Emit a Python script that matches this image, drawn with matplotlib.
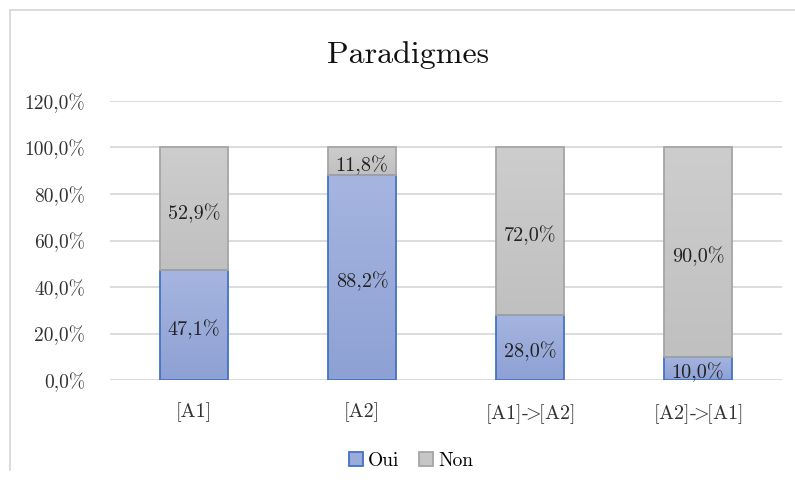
import matplotlib
matplotlib.use("Agg")
import matplotlib.pyplot as plt
from matplotlib.lines import Line2D
from matplotlib.patches import Patch
from matplotlib.colors import LinearSegmentedColormap
import numpy as np

categories = ["[A1]", "[A2]", "[A1]->[A2]", "[A2]->[A1]"]
oui = [47.1, 88.2, 28.0, 10.0]
non = [52.9, 11.8, 72.0, 90.0]
yticks = [0, 20, 40, 60, 80, 100, 120]

plt.rcParams['font.family'] = ['cmr10', 'DejaVu Serif']
plt.rcParams['mathtext.fontset'] = 'cm'
plt.rcParams['axes.formatter.use_mathtext'] = True

W, H = 795, 488
fig = plt.figure(figsize=(W/100, H/100), dpi=100)
ax = fig.add_axes([110/W, 1-380/H, (782-110)/W, (380-101)/H])

x = np.arange(len(categories))
oui_c = "#9AACDA"
non_c = "#C6C6C6"
b1 = ax.bar(x, oui, width=0.4, color="none", edgecolor="#4472C4", linewidth=1.3, zorder=3)
b2 = ax.bar(x, non, width=0.4, bottom=oui, color="none", edgecolor="#A5A5A5", linewidth=1.3, zorder=3)

cm_blue = LinearSegmentedColormap.from_list("b", ["#8EA1D4", "#A6B5E0"])
cm_gray = LinearSegmentedColormap.from_list("g", ["#C0C0C0", "#CDCDCD"])
grad = np.linspace(0, 1, 256).reshape(-1, 1)
for bars, cmap in ((b1, cm_blue), (b2, cm_gray)):
    for r in bars:
        x0, y0 = r.get_x(), r.get_y()
        w, h = r.get_width(), r.get_height()
        im = ax.imshow(grad, cmap=cmap, origin="lower", aspect="auto",
                       extent=(x0, x0 + w, y0, y0 + h), zorder=2.5, interpolation="bicubic")
        im.set_clip_path(r)

def fmt(v):
    return f"{v:.1f}".replace(".", ",") + "%"

for i in range(len(categories)):
    ax.annotate(fmt(oui[i]), (x[i], oui[i] / 2), xytext=(0, -3), textcoords="offset points",
                ha="center", va="center", fontsize=14.5, color="#222222", zorder=4)
    ax.annotate(fmt(non[i]), (x[i], oui[i] + non[i] / 2), xytext=(0, -3), textcoords="offset points",
                ha="center", va="center", fontsize=14.5, color="#222222", zorder=4)

ax.set_xlim(-0.5, len(categories) - 0.5)
ax.set_ylim(0, 120)
ax.set_yticks(yticks)
ax.set_yticklabels([fmt(v) for v in yticks], fontsize=14, color="#333333")
ax.set_xticks(x)
ax.set_xticklabels([c.replace(">", r"$\!\!>\!\!$") for c in categories], fontsize=14.5, color="#333333")
ax.tick_params(axis="both", length=0)
ax.tick_params(axis="y", pad=18)
ax.tick_params(axis="x", pad=16)
ax.yaxis.grid(True, color="#D9D9D9", linewidth=1.3, zorder=0)
ax.set_axisbelow(True)
for s in ax.spines.values():
    s.set_visible(False)
ax.axhline(0, color="#D9D9D9", linewidth=1.3, zorder=2)

fig.text(408/W, 1-55/H, "Paradigmes", ha="center", va="center", fontsize=23, color="#111111")

handles = [Patch(facecolor=oui_c, edgecolor="#4472C4", linewidth=1.3, label="Oui"),
           Patch(facecolor=non_c, edgecolor="#A5A5A5", linewidth=1.3, label="Non")]
fig.legend(handles=handles, loc="center", bbox_to_anchor=(411/W, 1-461/H), ncol=2, frameon=False,
           fontsize=14, handlelength=0.75, handleheight=0.75, handletextpad=0.25, columnspacing=1.0)

fig.add_artist(Line2D([10/W, 1], [1-10/H, 1-10/H], color="#D9D9D9", linewidth=1.3, transform=fig.transFigure))
fig.add_artist(Line2D([10/W, 10/W], [1-10/H, 1-470/H], color="#D9D9D9", linewidth=1.3, transform=fig.transFigure))

fig.savefig("out.png", dpi=100)
